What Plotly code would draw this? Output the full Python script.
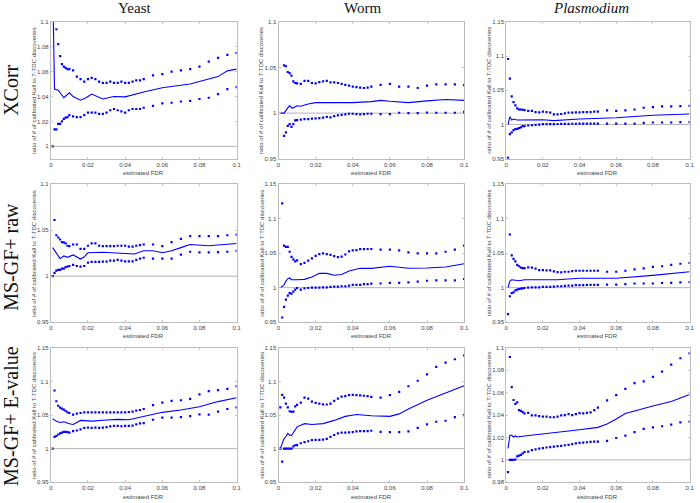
import plotly.graph_objects as go

# ---------------- data ----------------
FDR_GRID = [0.001, 0.002, 0.003, 0.004, 0.005, 0.006, 0.007, 0.008, 0.009, 0.010,
            0.012, 0.014, 0.016, 0.018, 0.020, 0.022, 0.024, 0.026, 0.028, 0.030,
            0.032, 0.034, 0.036, 0.038, 0.040, 0.042, 0.044, 0.046, 0.048, 0.050,
            0.055, 0.060, 0.065, 0.070, 0.075, 0.080, 0.085, 0.090, 0.095, 0.100]

COLUMNS = ["Yeast", "Worm", "<i>Plasmodium</i>"]
ROWS = ["XCorr", "MS-GF+ raw", "MS-GF+ E-value"]
X_TICKS = [0, 0.02, 0.04, 0.06, 0.08, 0.1]
X_TICK_LABELS = ["0", "0.02", "0.04", "0.06", "0.08", "0.1"]
X_TITLE = "estimated FDR"
Y_TITLE = "ratio of # of calibrated Kall to T-TDC discoveries"
REFERENCE_RATIO = 1.0

# ---- XCorr ----
yeast_xcorr_upper = [None, None, 1.094, 1.082, 1.0725, 1.066, 1.064, 1.063, 1.062, 1.062,
                     1.061, 1.056, 1.054, 1.052, 1.054, 1.055, 1.054, 1.052, 1.051, 1.051,
                     1.052, 1.051, 1.051, 1.052, 1.051, 1.051, 1.052, 1.053, 1.053, 1.054,
                     1.057, 1.058, 1.060, 1.061, 1.062, 1.064, 1.068, 1.071, 1.0735, 1.075]
yeast_xcorr_lower = [1.0, 1.0137, 1.0137, 1.018, 1.018, 1.020, 1.022, 1.023, 1.0235, 1.025,
                     1.024, 1.0235, 1.0235, 1.025, 1.027, 1.027, 1.027, 1.026, 1.026, 1.027,
                     1.029, 1.030, 1.029, 1.028, 1.027, 1.029, 1.030, 1.030, 1.030, 1.031,
                     1.0325, 1.0345, 1.035, 1.036, 1.0365, 1.038, 1.039, 1.042, 1.046, 1.0475]
yeast_xcorr_mean_x = [0.001, 0.002, 0.004, 0.007, 0.010, 0.012, 0.016, 0.019, 0.022, 0.025,
                      0.028, 0.031, 0.034, 0.040, 0.045, 0.050, 0.060, 0.075, 0.080, 0.085,
                      0.090, 0.095, 0.100]
yeast_xcorr_mean = [1.13, 1.046, 1.045, 1.039, 1.043, 1.040, 1.037, 1.039, 1.042, 1.040,
                    1.038, 1.039, 1.040, 1.0397, 1.042, 1.0437, 1.047, 1.050, 1.052, 1.054,
                    1.056, 1.0606, 1.062]

worm_xcorr_upper = [None, None, 1.0523, 1.0513, 1.045, 1.0437, 1.041, 1.0347, 1.033, 1.0325,
                    1.032, 1.0354, 1.0354, 1.033, 1.0325, 1.034, 1.0347, 1.0354, 1.0336, 1.0336,
                    1.033, 1.032, 1.031, 1.030, 1.029, 1.0285, 1.028, 1.0275, 1.028, 1.029,
                    1.031, 1.032, 1.029, 1.029, 1.0275, 1.030, 1.0314, 1.0314, 1.0314, 1.0307]
worm_xcorr_lower = [None, None, 0.975, 0.979, 0.986, 0.988, 0.985, 0.988, 0.992, 0.9924,
                    0.993, 0.9935, 0.9935, 0.994, 0.9942, 0.9946, 0.995, 0.996, 0.9953, 0.9968,
                    0.9975, 0.998, 0.9986, 0.9993, 0.9993, 0.999, 0.9986, 0.999, 0.9993, 0.9993,
                    0.999, 0.999, 1.0004, 1.0, 1.0, 1.0007, 1.0004, 1.0004, 1.0004, 1.0014]
worm_xcorr_mean_x = [0.001, 0.003, 0.005, 0.006, 0.007, 0.008, 0.010, 0.012, 0.016, 0.020,
                     0.028, 0.040, 0.050, 0.055, 0.060, 0.070, 0.080, 0.090, 0.100]
worm_xcorr_mean = [1.0, 1.0, 1.0058, 1.0083, 1.0058, 1.0058, 1.008, 1.0076, 1.010, 1.0115,
                   1.0115, 1.0115, 1.0126, 1.014, 1.013, 1.0115, 1.0134, 1.015, 1.014]

plas_xcorr_upper = [1.0957, 1.067, 1.041, 1.0327, 1.028, 1.0236, 1.022, 1.022, 1.0216, 1.021,
                    1.020, 1.020, 1.018, 1.0178, 1.0188, 1.018, 1.0173, 1.015, 1.015, 1.0154,
                    1.0163, 1.0173, 1.0173, 1.0178, 1.0178, 1.018, 1.018, 1.018, 1.0188, 1.0188,
                    1.0207, 1.020, 1.0207, 1.022, 1.0245, 1.0255, 1.0264, 1.0264, 1.027, 1.0274]
plas_xcorr_lower = [0.9514, 0.986, 0.9885, 0.992, 0.9933, 0.9938, 0.9947, 0.996, 0.9976, 0.9976,
                    0.9986, 0.999, 0.9995, 1.0, 1.0005, 1.0005, 1.0005, 1.0005, 1.0008, 1.001,
                    1.001, 1.001, 1.0012, 1.0012, 1.0014, 1.0014, 1.0014, 1.0014, 1.0014, 1.0014,
                    1.0014, 1.0014, 1.0014, 1.0014, 1.0024, 1.003, 1.003, 1.003, 1.0034, 1.0034]
plas_xcorr_mean_x = [0.001, 0.002, 0.003, 0.004, 0.006, 0.010, 0.020, 0.026, 0.040, 0.060,
                     0.080, 0.100]
plas_xcorr_mean = [1.0, 1.0115, 1.0067, 1.008, 1.0067, 1.007, 1.007, 1.0058, 1.008, 1.010,
                   1.0135, 1.0154]

# ---- MS-GF+ raw ----
yeast_raw_upper = [None, 1.061, 1.0444, 1.042, 1.0398, 1.037, 1.0366, 1.0355, 1.033, 1.0326,
                   1.0344, 1.0344, 1.0297, 1.0297, 1.033, 1.0355, 1.0355, 1.033, 1.0326, 1.0326,
                   1.0326, 1.0326, 1.033, 1.033, 1.033, 1.032, 1.032, 1.033, 1.0337, 1.0344,
                   1.0344, 1.0326, 1.037, 1.0405, 1.0434, 1.0434, 1.0434, 1.0434, 1.0444, 1.045]
yeast_raw_lower = [1.0, 1.0036, 1.006, 1.0068, 1.0068, 1.0082, 1.0082, 1.0097, 1.0104, 1.011,
                   1.0122, 1.011, 1.0104, 1.011, 1.0147, 1.0154, 1.0154, 1.0154, 1.0158, 1.0158,
                   1.0168, 1.0168, 1.0176, 1.0168, 1.016, 1.016, 1.016, 1.0176, 1.019, 1.020,
                   1.019, 1.019, 1.019, 1.0233, 1.0265, 1.0258, 1.0258, 1.026, 1.0265, 1.0276]
yeast_raw_mean_x = [0.001, 0.002, 0.004, 0.005, 0.007, 0.009, 0.012, 0.014, 0.016, 0.018,
                    0.020, 0.028, 0.040, 0.045, 0.050, 0.055, 0.060, 0.065, 0.070, 0.075,
                    0.085, 0.100]
yeast_raw_mean = [1.031, 1.0276, 1.021, 1.019, 1.022, 1.0204, 1.023, 1.021, 1.0186, 1.021,
                  1.0254, 1.026, 1.0247, 1.024, 1.0276, 1.0276, 1.0254, 1.0276, 1.031, 1.0344,
                  1.033, 1.0355]

worm_raw_upper = [None, 1.122, 1.061, 1.059, 1.059, 1.052, 1.0447, 1.041, 1.038, 1.0394,
                  1.034, 1.036, 1.039, 1.0423, 1.046, 1.0486, 1.0495, 1.0486, 1.0476, 1.0457,
                  1.0442, 1.045, 1.048, 1.0524, 1.054, 1.0543, 1.0558, 1.0558, 1.056, 1.056,
                  1.055, 1.055, 1.054, 1.051, 1.0495, 1.0495, 1.0495, 1.052, 1.055, 1.061]
worm_raw_lower = [None, 0.9567, 0.972, 0.9827, 0.9885, 0.992, 0.9913, 0.9942, 0.997, 0.9995,
                  0.997, 0.999, 0.9995, 1.0, 1.0, 1.0, 1.0005, 1.0005, 1.001, 1.0014,
                  1.0014, 1.002, 1.002, 1.003, 1.004, 1.004, 1.004, 1.005, 1.005, 1.0058,
                  1.006, 1.007, 1.007, 1.0077, 1.0087, 1.010, 1.0106, 1.0106, 1.0106, 1.0125]
worm_raw_mean_x = [0.001, 0.003, 0.004, 0.005, 0.006, 0.007, 0.010, 0.014, 0.018, 0.022,
                   0.026, 0.030, 0.034, 0.038, 0.044, 0.050, 0.060, 0.070, 0.080, 0.090, 0.100]
worm_raw_mean = [1.0, 1.004, 1.0096, 1.013, 1.014, 1.0115, 1.0115, 1.012, 1.0154, 1.0207,
                 1.0207, 1.018, 1.019, 1.024, 1.028, 1.0279, 1.031, 1.028, 1.0284, 1.030, 1.0346]

plas_raw_upper = [None, 1.077, 1.0466, 1.0418, 1.038, 1.033, 1.031, 1.029, 1.0284, 1.0284,
                  1.0293, 1.029, 1.0274, 1.0255, 1.0255, 1.025, 1.025, 1.0236, 1.0226, 1.022,
                  1.023, 1.023, 1.024, 1.0245, 1.0245, 1.0245, 1.0245, 1.0245, 1.0245, 1.0245,
                  1.023, 1.023, 1.0245, 1.0264, 1.028, 1.030, 1.031, 1.033, 1.0346, 1.036]
plas_raw_lower = [0.9615, 0.9875, 0.992, 0.993, 0.996, 0.997, 0.998, 0.9985, 0.999, 0.9995,
                  1.0, 1.0005, 1.0005, 1.0005, 1.001, 1.001, 1.001, 1.0015, 1.002, 1.002,
                  1.0025, 1.003, 1.003, 1.0035, 1.0035, 1.0035, 1.004, 1.004, 1.004, 1.004,
                  1.0043, 1.0043, 1.005, 1.006, 1.006, 1.006, 1.0067, 1.007, 1.0077, 1.008]
plas_raw_mean_x = [0.001, 0.002, 0.003, 0.005, 0.007, 0.010, 0.020, 0.028, 0.040, 0.060,
                   0.080, 0.100]
plas_raw_mean = [1.0, 1.0096, 1.0115, 1.011, 1.010, 1.0115, 1.012, 1.0115, 1.0135, 1.0135,
                 1.0178, 1.023]

# ---- MS-GF+ E-value ----
yeast_ev_upper = [None, 1.0865, 1.0705, 1.0638, 1.061, 1.0594, 1.058, 1.056, 1.054, 1.053,
                  1.0507, 1.052, 1.053, 1.054, 1.054, 1.054, 1.054, 1.054, 1.054, 1.054,
                  1.054, 1.054, 1.054, 1.054, 1.054, 1.0545, 1.055, 1.0565, 1.0575, 1.059,
                  1.0647, 1.0686, 1.071, 1.072, 1.074, 1.0807, 1.0855, 1.087, 1.089, 1.0928]
yeast_ev_lower = [1.0, 1.0174, 1.0188, 1.021, 1.0227, 1.0237, 1.025, 1.025, 1.0246, 1.0237,
                  1.026, 1.027, 1.0285, 1.031, 1.0314, 1.031, 1.0314, 1.031, 1.0314, 1.032,
                  1.033, 1.034, 1.034, 1.0333, 1.034, 1.034, 1.0343, 1.036, 1.0377, 1.038,
                  1.043, 1.046, 1.046, 1.047, 1.0483, 1.051, 1.0507, 1.055, 1.059, 1.0614]
yeast_ev_mean_x = [0.001, 0.003, 0.005, 0.007, 0.010, 0.012, 0.016, 0.022, 0.030, 0.036,
                   0.042, 0.050, 0.060, 0.070, 0.080, 0.090, 0.100]
yeast_ev_mean = [1.0444, 1.0406, 1.039, 1.040, 1.037, 1.036, 1.042, 1.041, 1.0425, 1.0435,
                 1.043, 1.048, 1.054, 1.0575, 1.0623, 1.070, 1.0758]

worm_ev_upper = [1.0614, 1.080, 1.076, 1.067, 1.0614, 1.0556, 1.0546, 1.055, 1.063, 1.065,
                 1.0686, 1.076, 1.0744, 1.070, 1.068, 1.067, 1.066, 1.0657, 1.067, 1.071,
                 1.0744, 1.0773, 1.078, 1.0797, 1.080, 1.0797, 1.0792, 1.0787, 1.078, 1.077,
                 1.076, 1.0797, 1.0845, 1.0928, 1.101, 1.1106, 1.1217, 1.128, 1.133, 1.1386]
worm_ev_lower = [1.0, 0.9807, 1.0, 1.0, 1.0, 1.0, 1.0, 1.0034, 1.005, 1.0053,
                 1.008, 1.0097, 1.011, 1.0126, 1.013, 1.013, 1.0135, 1.0145, 1.0174, 1.0203,
                 1.0227, 1.0237, 1.0237, 1.0241, 1.0246, 1.0256, 1.026, 1.026, 1.026, 1.0266,
                 1.025, 1.0246, 1.0246, 1.0256, 1.031, 1.0362, 1.040, 1.0415, 1.0469, 1.050]
worm_ev_mean_x = [0.001, 0.002, 0.003, 0.004, 0.005, 0.006, 0.007, 0.008, 0.010, 0.014,
                  0.018, 0.024, 0.030, 0.036, 0.042, 0.050, 0.060, 0.065, 0.070, 0.080,
                  0.090, 0.100]
worm_ev_mean = [1.0, 1.009, 1.015, 1.018, 1.0227, 1.020, 1.0198, 1.0237, 1.0324, 1.0372,
                1.036, 1.0372, 1.042, 1.048, 1.0507, 1.049, 1.048, 1.0517, 1.059, 1.072,
                1.083, 1.0937]

plas_ev_upper = [None, 1.0918, 1.065, 1.0534, 1.050, 1.0513, 1.0443, 1.0437, 1.0426, 1.0414,
                 1.042, 1.0397, 1.0397, 1.039, 1.0385, 1.0385, 1.038, 1.038, 1.0385, 1.0397,
                 1.040, 1.0408, 1.040, 1.0408, 1.0417, 1.0414, 1.042, 1.0423, 1.0443, 1.0466,
                 1.053, 1.0577, 1.0633, 1.0685, 1.070, 1.074, 1.0787, 1.085, 1.0907, 1.095]
plas_ev_lower = [0.989, 1.0, 1.0, 1.0, 1.0003, 1.003, 1.0038, 1.0044, 1.0058, 1.007,
                 1.0073, 1.0087, 1.0093, 1.010, 1.0105, 1.011, 1.0114, 1.0117, 1.0122, 1.0125,
                 1.013, 1.0133, 1.014, 1.0146, 1.0152, 1.0154, 1.0157, 1.016, 1.0163, 1.0163,
                 1.017, 1.0195, 1.0216, 1.0248, 1.0277, 1.029, 1.030, 1.0315, 1.0335, 1.034]
plas_ev_mean_x = [0.001, 0.002, 0.003, 0.004, 0.005, 0.006, 0.010, 0.018, 0.028, 0.040,
                  0.050, 0.055, 0.060, 0.065, 0.080, 0.090, 0.100]
plas_ev_mean = [1.0102, 1.0219, 1.0219, 1.0204, 1.0213, 1.0204, 1.0213, 1.0227, 1.0248, 1.0268,
                1.029, 1.032, 1.0364, 1.0414, 1.048, 1.052, 1.0583]

# y-axis ranges and tick labels per panel (row-major)
Y_RANGES = [[0.99, 1.1], [0.95, 1.1], [0.95, 1.15],
            [0.95, 1.1], [0.95, 1.15], [0.95, 1.15],
            [0.95, 1.15], [0.95, 1.15], [0.98, 1.1]]
TICKS_02 = [1.0, 1.02, 1.04, 1.06, 1.08, 1.1]
TICKS_02_LABELS = ["1", "1.02", "1.04", "1.06", "1.08", "1.1"]
TICKS_05_A = [0.95, 1.0, 1.05, 1.1]
TICKS_05_A_LABELS = ["0.95", "1", "1.05", "1.1"]
TICKS_05_B = [0.95, 1.0, 1.05, 1.1, 1.15]
TICKS_05_B_LABELS = ["0.95", "1", "1.05", "1.1", "1.15"]
TICKS_98 = [0.98, 1.0, 1.02, 1.04, 1.06, 1.08, 1.1]
TICKS_98_LABELS = ["0.98", "1", "1.02", "1.04", "1.06", "1.08", "1.1"]
Y_TICKS = [(TICKS_02, TICKS_02_LABELS), (TICKS_05_A, TICKS_05_A_LABELS), (TICKS_05_B, TICKS_05_B_LABELS),
           (TICKS_05_A, TICKS_05_A_LABELS), (TICKS_05_B, TICKS_05_B_LABELS), (TICKS_05_B, TICKS_05_B_LABELS),
           (TICKS_05_B, TICKS_05_B_LABELS), (TICKS_05_B, TICKS_05_B_LABELS), (TICKS_98, TICKS_98_LABELS)]

PANELS = [
    (yeast_xcorr_upper, yeast_xcorr_lower, yeast_xcorr_mean_x, yeast_xcorr_mean),
    (worm_xcorr_upper, worm_xcorr_lower, worm_xcorr_mean_x, worm_xcorr_mean),
    (plas_xcorr_upper, plas_xcorr_lower, plas_xcorr_mean_x, plas_xcorr_mean),
    (yeast_raw_upper, yeast_raw_lower, yeast_raw_mean_x, yeast_raw_mean),
    (worm_raw_upper, worm_raw_lower, worm_raw_mean_x, worm_raw_mean),
    (plas_raw_upper, plas_raw_lower, plas_raw_mean_x, plas_raw_mean),
    (yeast_ev_upper, yeast_ev_lower, yeast_ev_mean_x, yeast_ev_mean),
    (worm_ev_upper, worm_ev_lower, worm_ev_mean_x, worm_ev_mean),
    (plas_ev_upper, plas_ev_lower, plas_ev_mean_x, plas_ev_mean),
]

# ---------------- layout geometry (pixels) ----------------
W, H = 700, 503
COL_PX = [(49.3, 237.0), (279.3, 466.8), (509.3, 694.5)]
ROW_PX = [(19.0, 157.7), (183.3, 323.0), (349.0, 485.0)]

def fx(p):
    return p / W

def fy(p):
    return 1 - p / H

BLUE = "#0000ff"
FRAME = "#bcbcbc"
TICKFONT = dict(family="Liberation Sans, Arial, sans-serif", size=6, color="#444444")
SERIF = "Liberation Serif, Times New Roman, serif"

fig = go.Figure()
layout = dict(width=W, height=H, margin=dict(l=0, r=0, t=0, b=0),
              paper_bgcolor="white", plot_bgcolor="white", showlegend=False)
shapes = []
annotations = []

for i, (upper, lower, mx, my) in enumerate(PANELS):
    r, c = divmod(i, 3)
    n = i + 1
    xa = "x" if n == 1 else f"x{n}"
    ya = "y" if n == 1 else f"y{n}"
    xkey = "xaxis" if n == 1 else f"xaxis{n}"
    ykey = "yaxis" if n == 1 else f"yaxis{n}"
    x0, x1 = COL_PX[c]
    yt, yb = ROW_PX[r]
    tv, tt = Y_TICKS[i]
    layout[xkey] = dict(domain=[fx(x0), fx(x1)], anchor=ya, range=[0, 0.1],
                        tickvals=X_TICKS, ticktext=X_TICK_LABELS,
                        showline=True, linecolor=FRAME, linewidth=1, mirror="allticks",
                        ticks="inside", ticklen=2, tickcolor=FRAME, tickwidth=0.8,
                        showgrid=False, zeroline=False, tickfont=TICKFONT)
    layout[ykey] = dict(domain=[fy(yb), fy(yt)], anchor=xa, range=Y_RANGES[i],
                        tickvals=tv, ticktext=tt,
                        showline=True, linecolor=FRAME, linewidth=1, mirror="allticks",
                        ticks="inside", ticklen=2, tickcolor=FRAME, tickwidth=0.8,
                        showgrid=False, zeroline=False, tickfont=TICKFONT)
    shapes.append(dict(type="line", xref=f"{xa} domain", yref=ya, x0=0, x1=1,
                       y0=REFERENCE_RATIO, y1=REFERENCE_RATIO, layer="below",
                       line=dict(color="#a0a0a0", width=0.8)))
    for band in (upper, lower):
        fig.add_trace(go.Scatter(x=FDR_GRID, y=band, mode="markers", xaxis=xa, yaxis=ya,
                                 marker=dict(symbol="square", size=2.2, color=BLUE, line=dict(width=0)),
                                 hoverinfo="skip"))
    fig.add_trace(go.Scatter(x=mx, y=my, mode="lines", xaxis=xa, yaxis=ya,
                             line=dict(color=BLUE, width=1.1), hoverinfo="skip"))
    # axis titles
    annotations.append(dict(text=X_TITLE, xref="paper", yref="paper",
                            x=fx((x0 + x1) / 2), y=fy(yb + 14.5), xanchor="center", yanchor="middle",
                            showarrow=False, font=TICKFONT))
    annotations.append(dict(text=Y_TITLE, xref="paper", yref="paper", textangle=-90,
                            x=fx(x0 - 17), y=fy((yt + yb) / 2), xanchor="center", yanchor="middle",
                            showarrow=False, font=TICKFONT))

# column titles
COL_TITLE_X = [134, 364, 595]
for c, name in enumerate(COLUMNS):
    annotations.append(dict(text=name, xref="paper", yref="paper", x=fx(COL_TITLE_X[c]), y=fy(5),
                            xanchor="center", yanchor="middle", showarrow=False,
                            font=dict(family=SERIF, size=15, color="#111111")))
# row titles
ROW_TITLE_Y = [88, 257, 418]
for r, name in enumerate(ROWS):
    annotations.append(dict(text=name, xref="paper", yref="paper", x=fx(9), y=fy(ROW_TITLE_Y[r]),
                            xanchor="center", yanchor="middle", textangle=-90, showarrow=False,
                            font=dict(family=SERIF, size=20, color="#111111")))

layout["shapes"] = shapes
layout["annotations"] = annotations
fig.update_layout(**layout)
fig.write_html("out.html", config={"displayModeBar": False, "staticPlot": True})

# remove the browser's default page margin so the figure sits at the window origin
with open("out.html", "r", encoding="utf-8") as fh:
    page = fh.read()
page = page.replace("<head>", "<head><style>html,body{margin:0;padding:0;overflow:hidden;}</style>", 1)
with open("out.html", "w", encoding="utf-8") as fh:
    fh.write(page)
